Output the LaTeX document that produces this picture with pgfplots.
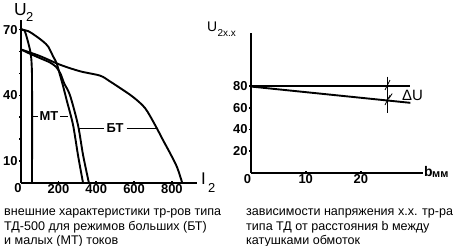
\documentclass[border=0pt]{standalone}
\usepackage{pgfplots}
\pgfplotsset{compat=1.18}
\usepackage{fontspec}
\setmainfont{Liberation Sans}
\begin{document}
\begin{tikzpicture}
\useasboundingbox (0bp,0bp) rectangle (463bp,246bp);
\pgfplotsset{
  myax/.style={
    scale only axis,
    axis lines=left,
    axis line style={-, line width=1.8bp},
    tick align=center,
    major tick length=3bp,
    tick style={black, line width=1.6bp},
    tick label style={font=\fontsize{13}{13}\selectfont\bfseries},
    xticklabel style={inner sep=1bp, yshift=1bp},
    yticklabel style={inner sep=1.5bp},
    clip=false,
    /pgf/number format/assume math mode=true,
  }
}
% ---------------- left chart ----------------
\begin{axis}[myax,
  at={(20.7bp,63bp)}, anchor=south west,
  width=176.3bp, height=163bp,
  xmin=0, xmax=933, ymin=0, ymax=74.4,
  xtick={200,400,600,800},
  ytick={10,20,30,40,50,60,70},
  yticklabels={10,,,40,,,70},
]
% MT, vertical
\addplot[line width=1.9bp, smooth, tension=0.5] coordinates {
 (0,70) (20,69.6) (40,64) (53,59) (58,54) (60,45) (60,0)};
% MT, curve from 70
\addplot[line width=1.9bp, smooth, tension=0.5] coordinates {
 (0,70) (40,69.3) (85,66.8) (120,64.5) (146,62.2) (172,57.7) (190,54.7)
 (208,49.3) (225,44) (243,37.9) (277,26.5) (303,12.8) (330,0)};
% BT, curve from 61 (steep)
\addplot[line width=1.9bp, smooth, tension=0.5] coordinates {
 (0,61) (49,59) (102,57) (155,55) (187,53) (210,50) (230,45.5)
 (261,40) (303,26.5) (330,12.8) (361,0)};
% BT, long curve
\addplot[line width=1.9bp, smooth, tension=0.5] coordinates {
 (0,61) (100,58) (208,54) (314,51) (420,49) (470,46.5) (525,43.4)
 (594,39.3) (658,34.2) (711,26.5) (753,19.6) (790,13.7) (827,7.3) (855,0)};
% leader lines
\addplot[line width=0.9bp] coordinates {(60,30.6) (92,30.6)};
\addplot[line width=0.9bp] coordinates {(208,30.6) (252,30.6)};
\addplot[line width=0.9bp] coordinates {(308,25) (440,25)};
\addplot[line width=0.9bp] coordinates {(560,25) (720,25)};
\node[font=\fontsize{13}{13}\selectfont\bfseries, inner sep=0pt] at (axis cs:150,30.6) {МТ};
\node[font=\fontsize{13}{13}\selectfont\bfseries, inner sep=0pt] at (axis cs:500,25) {БТ};
\end{axis}
% ---------------- right chart ----------------
\begin{axis}[myax,
  at={(250.7bp,73bp)}, anchor=south west,
  width=172.3bp, height=140bp,
  xmin=0, xmax=31.3, ymin=0, ymax=128.7,
  xtick={10,20},
  ytick={20,40,60,80},
]
\addplot[line width=1.9bp] coordinates {(0,80) (29,80)};
\addplot[line width=1.9bp] coordinates {(0,79.5) (29,64.5)};
\addplot[line width=0.8bp] coordinates {(24.8,88.5) (24.8,55)};
\addplot[line width=0.8bp] coordinates {(24.4,76.3) (25.3,85.5)};
\addplot[line width=0.8bp] coordinates {(24.4,62.5) (25.3,71.5)};
\addplot[line width=0.8bp] coordinates {(25.1,68.5) (25.7,73)};
\node[font=\fontsize{15}{15}\selectfont, inner sep=0pt] at (axis cs:29.4,71.7) {ΔU};
\end{axis}
% axis labels
\begin{scope}[every node/.style={anchor=base west, inner sep=0pt}]
\node[font=\fontsize{17.5}{17.5}\selectfont] at (14bp,230bp) {U};
\node[font=\fontsize{13}{13}\selectfont] at (26bp,224bp) {2};
\node[font=\fontsize{17}{17}\selectfont] at (201bp,61bp) {I};
\node[font=\fontsize{13}{13}\selectfont] at (208bp,53bp) {2};
\node[anchor=base, font=\fontsize{13}{13}\selectfont\bfseries] at (18bp,53bp) {0};
\node[font=\fontsize{14}{14}\selectfont] at (207bp,214bp) {U};
\node[font=\fontsize{10}{10}\selectfont] at (217.5bp,209bp) {2х.х};
\node[font=\fontsize{14}{14}\selectfont\bfseries] at (424bp,69bp) {b};
\node[font=\fontsize{11}{11}\selectfont\bfseries] at (432bp,68bp) {мм};
\node[anchor=base, font=\fontsize{13}{13}\selectfont\bfseries] at (247.5bp,62bp) {0};
\end{scope}
% captions
\begin{scope}[every node/.style={anchor=base west, inner sep=0pt, font=\fontsize{12.6}{12.6}\selectfont}]
\node at (4bp,31bp) {внешние характеристики тр-ров типа};
\node at (4bp,16bp) {ТД-500 для режимов больших (БТ)};
\node at (4bp,1.5bp) {и малых (МТ) токов};
\node at (246bp,31bp) {зависимости напряжения х.х. тр-ра};
\node at (246bp,16bp) {типа ТД от расстояния b между};
\node at (246bp,1.5bp) {катушками обмоток};
\end{scope}
\end{tikzpicture}
\end{document}
